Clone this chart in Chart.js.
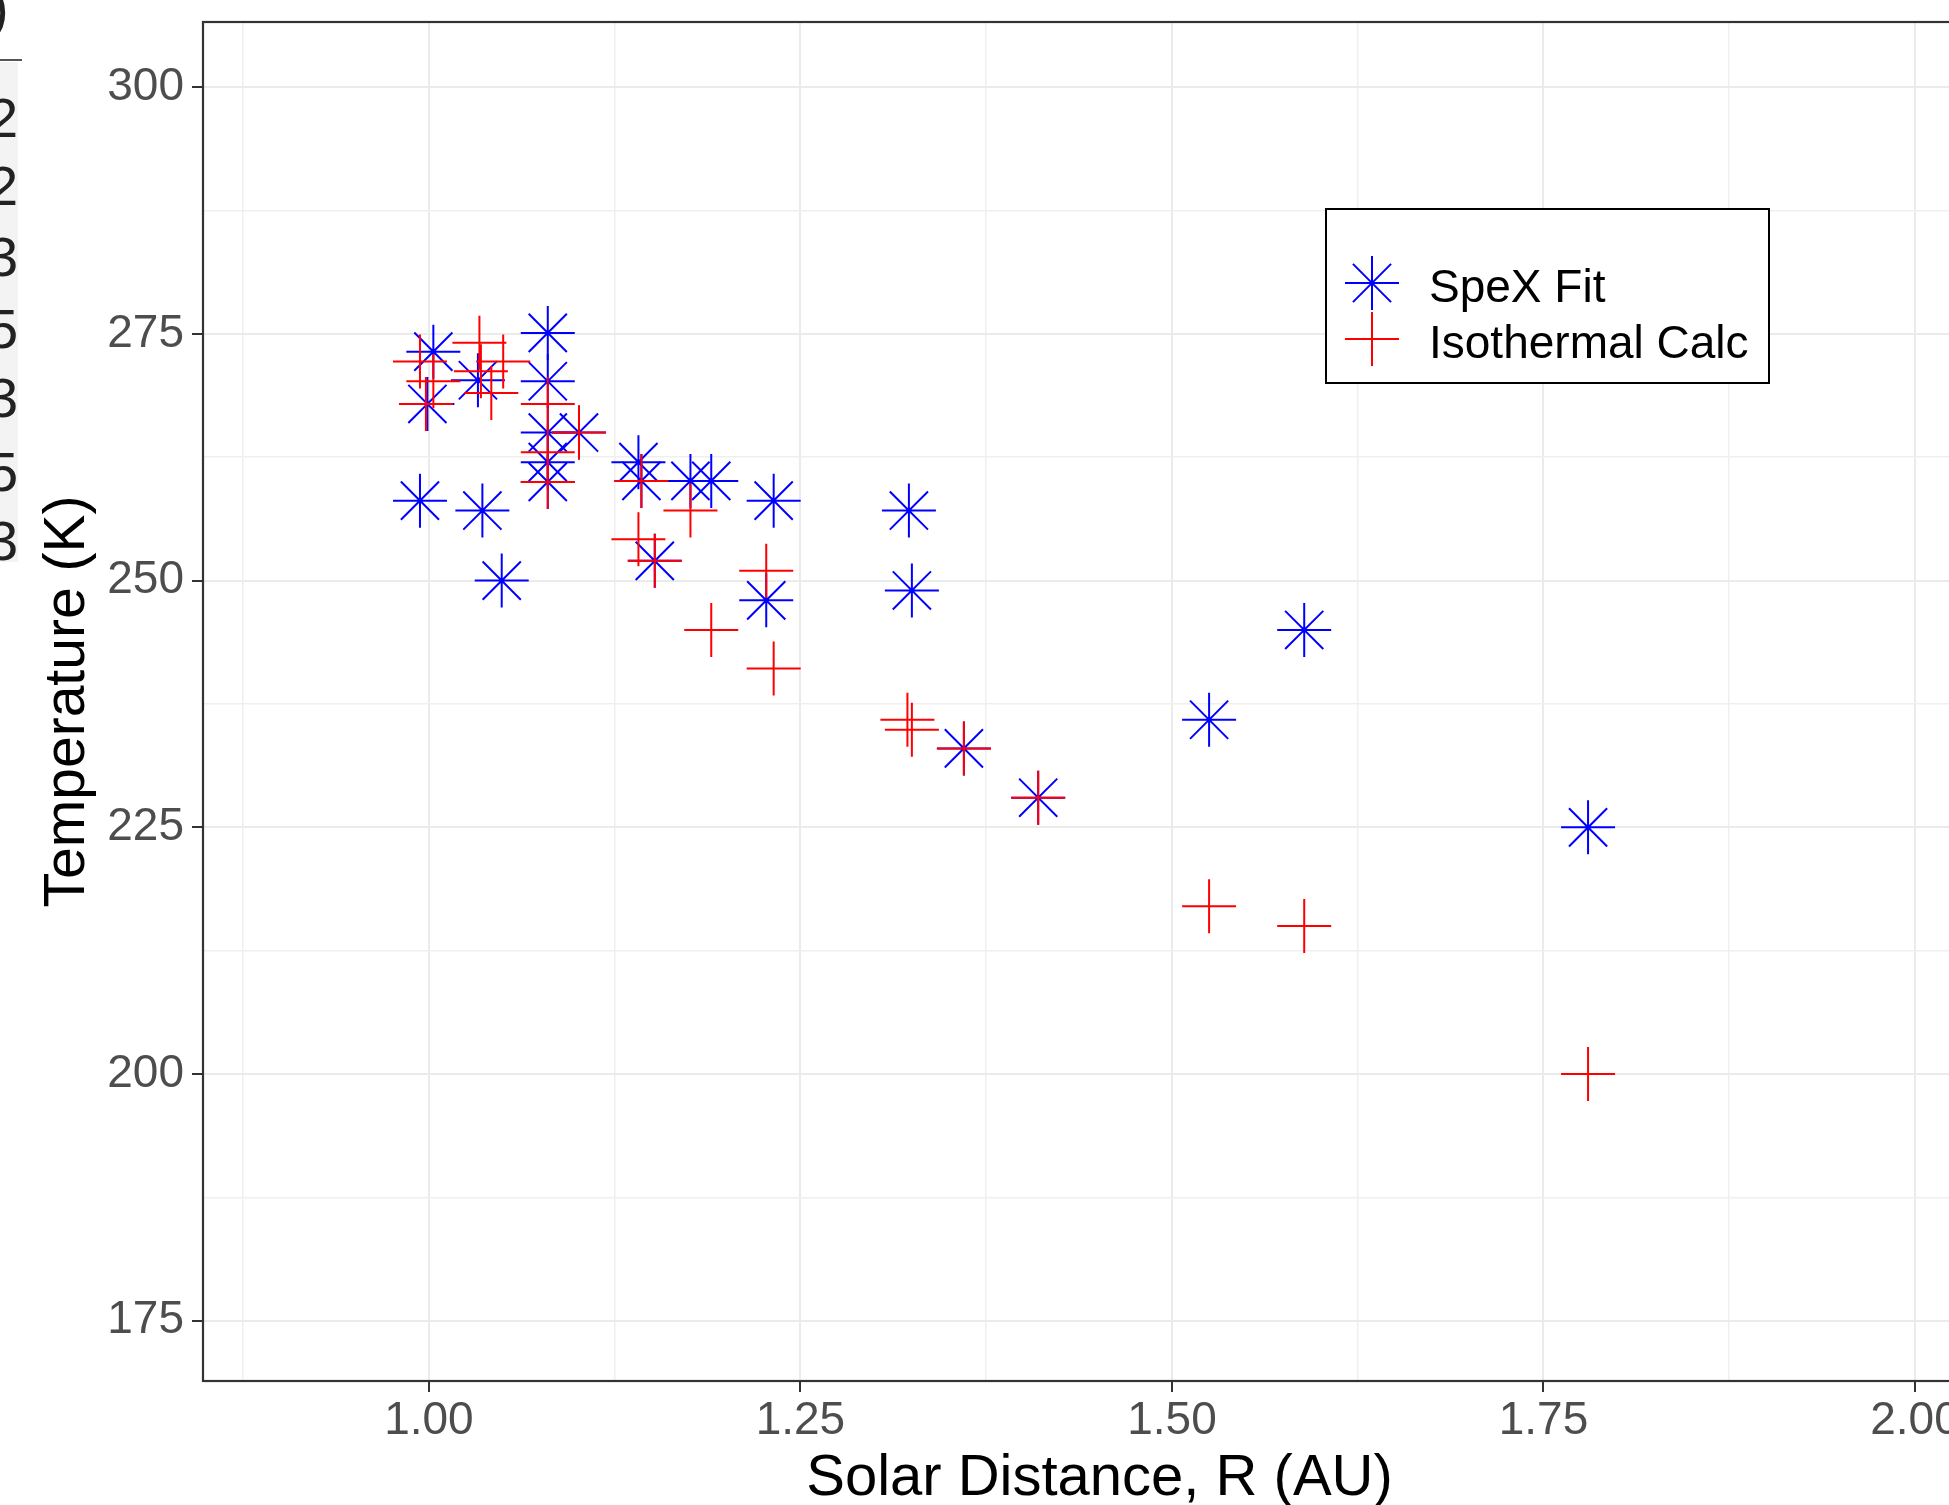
<!DOCTYPE html>
<html><head><meta charset="utf-8">
<script src="https://cdn.jsdelivr.net/npm/chart.js@4/dist/chart.umd.min.js"></script>
<style>
html,body{margin:0;padding:0;background:#fff;overflow:hidden;width:1949px;height:1505px;}
#wrap{position:absolute;left:0;top:0;width:2010px;height:1530px;}
#side{position:absolute;left:0;top:62px;width:18px;height:500px;background:#f3f3f3;}
.sd{position:absolute;left:-13px;font-family:"Liberation Sans",Arial,sans-serif;font-size:56px;line-height:56px;color:#222;}
#sideline{position:absolute;left:0;top:59px;width:22px;height:2px;background:#555;}
</style></head><body>
<div id="wrap"><canvas id="c" width="2010" height="1530"></canvas></div>
<div id="side"></div>
<div id="sideline"></div>
<div id="sidetext"></div>
<script>
// ---- data ----
const speXR = [0.994, 0.999, 1.003, 1.033, 1.036, 1.049, 1.080, 1.080, 1.080, 1.080, 1.080, 1.101, 1.141, 1.143, 1.152, 1.176, 1.190, 1.232, 1.227, 1.323, 1.325, 1.360, 1.410, 1.525, 1.589, 1.780];
const speXT = [258.1, 267.9, 273.2, 270.3, 257.1, 250.0, 275.1, 270.2, 265.0, 262.0, 260.0, 265.0, 262.0, 260.1, 252.0, 260.1, 260.1, 258.1, 248.0, 257.1, 249.0, 233.0, 228.0, 235.9, 245.0, 225.0];
const isoR = [0.994, 0.998, 1.003, 1.034, 1.035, 1.042, 1.050, 1.080, 1.080, 1.080, 1.101, 1.141, 1.143, 1.152, 1.176, 1.190, 1.227, 1.232, 1.322, 1.325, 1.360, 1.410, 1.525, 1.589, 1.780];
const isoT = [272.2, 267.9, 270.2, 274.1, 271.2, 269.0, 272.2, 267.9, 263.0, 260.0, 265.0, 254.2, 260.1, 252.0, 257.1, 245.0, 251.0, 241.1, 235.9, 234.9, 233.0, 228.0, 217.0, 215.0, 200.0];
const seriesNames = ['SpeX Fit', 'Isothermal Calc'];
const xMajorTicks = [1.00, 1.25, 1.50, 1.75, 2.00];
const xTickLabels = ['1.00', '1.25', '1.50', '1.75', '2.00'];
const xMinorTicks = [0.875, 1.125, 1.375, 1.625, 1.875];
const yMajorTicks = [175, 200, 225, 250, 275, 300];
const yTickLabels = ['175', '200', '225', '250', '275', '300'];
const yMinorTicks = [187.5, 212.5, 237.5, 262.5, 287.5];
const xTitle = 'Solar Distance, R (AU)';
const yTitle = 'Temperature (K)';
const sideDigits = ['2', '2', '3', '5', '3', '5', '3'];

// ---- side fragment ----
const sideTops = [90, 158, 229, 301, 370, 444, 513];
const st = document.getElementById('sidetext');
sideDigits.forEach((d, i) => {
  const el = document.createElement('div');
  el.className = 'sd'; el.textContent = d; el.style.top = sideTops[i] + 'px';
  st.appendChild(el);
});
const top0 = document.createElement('div');
top0.className = 'sd'; top0.textContent = ')'; top0.style.top = '-20px'; top0.style.left = '-10px';
st.appendChild(top0);

const FONT = '"Liberation Sans", Arial, sans-serif';
const pts = (xs, ys) => xs.map((x, i) => ({x: x, y: ys[i]}));

const gridStyle = (minor) => ({
  color: c => (c.tick && minor.includes(c.tick.value)) ? '#EFEFEF' : '#EBEBEB',
  lineWidth: c => (c.tick && minor.includes(c.tick.value)) ? 1.5 : 2,
  tickColor: c => (c.tick && minor.includes(c.tick.value)) ? 'rgba(0,0,0,0)' : '#333333',
  tickWidth: 2,
  tickLength: 11,
  drawTicks: true
});

const framePlugin = {
  id: 'frame',
  afterDraw(chart) {
    const ctx = chart.ctx, a = chart.chartArea;
    ctx.save();
    ctx.strokeStyle = '#333333'; ctx.lineWidth = 2.2;
    ctx.strokeRect(a.left, a.top, a.right - a.left, a.bottom - a.top);
    // legend
    const lx = 1326, ly = 209, lw = 443, lh = 174;
    ctx.fillStyle = '#ffffff'; ctx.fillRect(lx, ly, lw, lh);
    ctx.strokeStyle = '#000000'; ctx.lineWidth = 2;
    ctx.strokeRect(lx, ly, lw, lh);
    const rows = [283, 339];
    chart.data.datasets.forEach((ds, i) => {
      ctx.strokeStyle = ds.borderColor; ctx.lineWidth = 2;
      Chart.helpers.drawPoint(ctx, {pointStyle: ds.pointStyle, radius: 27, borderWidth: 2, rotation: 0}, 1372, rows[i]);
      ctx.fillStyle = '#000000';
      ctx.font = '46px ' + FONT;
      ctx.textBaseline = 'middle'; ctx.textAlign = 'left';
      ctx.fillText(ds.label, 1429, rows[i] + 6);
    });
    ctx.restore();
  }
};

new Chart(document.getElementById('c'), {
  type: 'scatter',
  data: {
    datasets: [
      {label: seriesNames[0], data: pts(speXR, speXT), pointStyle: 'star', radius: 27, hoverRadius: 27,
       borderColor: '#0000FF', backgroundColor: 'rgba(0,0,0,0)', borderWidth: 2, order: 2},
      {label: seriesNames[1], data: pts(isoR, isoT), pointStyle: 'cross', radius: 27, hoverRadius: 27,
       borderColor: '#FF0000', backgroundColor: 'rgba(0,0,0,0)', borderWidth: 2, order: 1}
    ]
  },
  options: {
    responsive: false, animation: false, devicePixelRatio: 1,
    layout: {autoPadding: false, padding: {top: 22, right: 14, bottom: 0, left: 0}},
    plugins: {legend: {display: false}, tooltip: {enabled: false}},
    scales: {
      x: {
        type: 'linear', min: 0.848, max: 2.0545,
        afterBuildTicks: s => { s.ticks = [...xMinorTicks, ...xMajorTicks].sort((a, b) => a - b).map(v => ({value: v})); },
        afterFit: s => { s.height = 149; s.paddingLeft = 0; s.paddingRight = 0; },
        ticks: {
          autoSkip: false, maxRotation: 0,
          callback: v => { const i = xMajorTicks.indexOf(v); return i >= 0 ? xTickLabels[i] : ''; },
          color: '#4D4D4D', font: {family: FONT, size: 46}, padding: 2
        },
        grid: gridStyle(xMinorTicks),
        border: {display: false},
        title: {display: true, text: xTitle, color: '#000000', font: {family: FONT, size: 58}, padding: {top: 0, bottom: 16}}
      },
      y: {
        type: 'linear', min: 168.9, max: 306.6,
        afterBuildTicks: s => { s.ticks = [...yMinorTicks, ...yMajorTicks].sort((a, b) => a - b).map(v => ({value: v})); },
        afterFit: s => { s.width = 203; s.paddingTop = 0; s.paddingBottom = 0; },
        ticks: {
          autoSkip: false,
          callback: v => { const i = yMajorTicks.indexOf(v); return i >= 0 ? yTickLabels[i] : ''; },
          color: '#4D4D4D', font: {family: FONT, size: 46}, padding: 8
        },
        grid: gridStyle(yMinorTicks),
        border: {display: false},
        title: {display: true, text: yTitle, color: '#000000', font: {family: FONT, size: 57}, padding: {top: 34, bottom: 0}}
      }
    }
  },
  plugins: [framePlugin]
});
</script>
</body></html>
